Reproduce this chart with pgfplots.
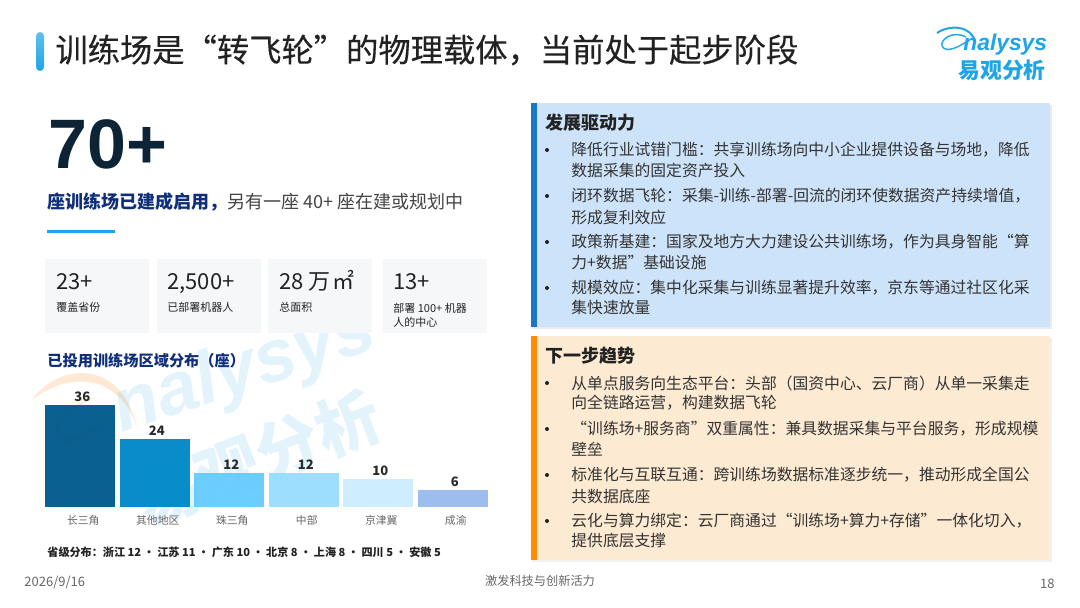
\documentclass[border=0pt]{standalone}
\usepackage{pgfplots}
\pgfplotsset{compat=1.18}
\usepackage{fontspec}
\setmainfont{Noto Sans CJK SC}
\newfontfamily\arialf{Liberation Sans}
\newfontfamily\titlef[FakeBold=0.25]{Noto Sans CJK SC}
\definecolor{navy}{HTML}{0F2F7A}
\definecolor{ink}{HTML}{222222}
\definecolor{body}{HTML}{333333}
\definecolor{cyanb}{HTML}{1FA5E6}
\definecolor{panelb}{HTML}{CDE3FA}
\definecolor{panelo}{HTML}{FDEAD2}
\definecolor{cardg}{HTML}{F5F7F9}
\definecolor{barblue}{HTML}{1976C8}
\definecolor{c1}{HTML}{005A8C}
\definecolor{c2}{HTML}{0088C8}
\definecolor{c3}{HTML}{66CCFF}
\definecolor{c4}{HTML}{99DDFF}
\definecolor{c5}{HTML}{CCEEFF}
\definecolor{c6}{HTML}{99BBEE}
\newcommand{\fs}[1]{\fontsize{#1pt}{#1pt}\selectfont}
\begin{document}
\begin{tikzpicture}[x=0.5pt,y=-0.5pt]
\fill[white] (0,0) rectangle (1080,608);
% title
\shade[top color=cyanb!70!white,bottom color=cyanb,rounded corners=2pt] (36,32) rectangle (44,71);
\node[anchor=west,inner sep=0,text=ink] at (55,50) {\titlef\fs{16.15}训练场是“转飞轮”的物理载体，当前处于起步阶段};
% logo
\node[anchor=west,inner sep=0,text=cyanb] at (963,45) {\arialf\itshape\bfseries\fs{11.4}nalysys};
\draw[cyanb,line width=1pt] (937,33) .. controls (950,24) and (972,26) .. (975,42);
\draw[cyanb,line width=0.7pt] (966,37) .. controls (952,30) and (940,40) .. (942,46) .. controls (946,54) and (960,46) .. (966,42);
\node[anchor=west,inner sep=0,text=cyanb] at (958,70) {\bfseries\fs{10.9}易观分析};
% big
\node[anchor=west,inner sep=0] at (48,144) {\arialf\bfseries\fs{35}\textcolor[HTML]{0D2436}{70+}};
\node[anchor=west,inner sep=0] at (47,202) {\fs{9}\textcolor{navy}{\bfseries 座训练场已建成启用，}\textcolor[HTML]{444444}{另有一座 40+ 座在建或规划中}};
\fill[cyanb] (47,230) rectangle (115,233);
% watermark
\begin{scope}[opacity=0.13,text opacity=0.13]
\node[rotate=18,inner sep=0,text=cyanb] at (245,372) {\arialf\bfseries\itshape\fs{37}nalysys};
\node[rotate=21,inner sep=0,text=cyanb] at (258,458) {\bfseries\fs{32}易观分析};
\end{scope}
\fill[orange,opacity=0.17] (32,400) .. controls (55,365) and (120,355) .. (137,427) .. controls (120,375) and (70,370) .. (32,400);
\fill[orange,opacity=0.17] (97,397) .. controls (60,405) and (45,435) .. (63,443) .. controls (80,447) and (100,430) .. (110,413) .. controls (95,430) and (65,445) .. (60,430) .. controls (58,420) and (75,405) .. (97,397);
% cards
\foreach \a/\b/\tx/\n/\s in {45/149/56/23+/覆盖省份,157/261/167/{2,500+}/已部署机器人,268/372/279/{28 万\hspace{1pt}㎡}/总面积}{
  \fill[cardg] (\a,259) rectangle (\b,333);
  \node[anchor=base west,inner sep=0,text=ink] at (\tx,290) {\fs{11}\n};
  \node[anchor=west,inner sep=0,text=ink] at (\tx,307) {\fs{5.5}\s};
}
\fill[cardg] (383,259) rectangle (487,333);
\node[anchor=base west,inner sep=0,text=ink] at (393,290) {\fs{11}13+};
\node[anchor=west,inner sep=0,text=ink] at (393,308) {\fs{5.5}部署 100+ 机器};
\node[anchor=west,inner sep=0,text=ink] at (393,322) {\fs{5.5}人的中心};
\node[anchor=west,inner sep=0,text=navy] at (47,361) {\bfseries\fs{7.6}已投用训练场区域分布（座）};
% chart
\begin{axis}[at={(21.5pt,-253.5pt)},anchor=south west,scale only axis,width=223.5pt,height=56.6pt,
  xmin=-0.5,xmax=5.5,ymin=0,ymax=40,clip=false,
  axis line style={draw=none},tick style={draw=none},
  ytick=\empty,xtick={0,1,2,3,4,5},
  xticklabels={长三角,其他地区,珠三角,中部,京津冀,成渝},
  xticklabel style={font=\fontsize{5.4}{5.4}\selectfont,text=black!60,xshift=1.5pt,yshift=3.5pt},
  ybar,bar width=35pt,bar shift=0pt,
  /pgf/number format/assume math mode=true,
  nodes near coords,
  every node near coord/.append style={font=\fontsize{6.5}{6.5}\selectfont\bfseries,text=ink,inner sep=1.5pt,xshift=1pt},
  ]
\addplot[draw=none,fill=c1,fill opacity=0.96] coordinates {(0,36)};
\addplot[draw=none,fill=c2,fill opacity=0.96] coordinates {(1,24)};
\addplot[draw=none,fill=c3,fill opacity=0.96] coordinates {(2,12)};
\addplot[draw=none,fill=c4,fill opacity=0.96] coordinates {(3,12)};
\addplot[draw=none,fill=c5,fill opacity=0.96] coordinates {(4,10)};
\addplot[draw=none,fill=c6,fill opacity=0.96] coordinates {(5,6)};
\end{axis}
% footers
\node[anchor=west,inner sep=0,text=black!60] at (24,583) {\fs{6.5}2026/9/16};
\node[anchor=center,inner sep=0,text=black!60] at (540,581) {\fs{6.1}激发科技与创新活力};
\node[anchor=east,inner sep=0,text=black!60] at (1055,584) {\fs{6.5}18};
\node[anchor=west,inner sep=0,text=ink] at (47,552) {\bfseries\fs{5.55}省级分布：浙江 12 · 江苏 11 · 广东 10 · 北京 8 · 上海 8 · 四川 5 · 安徽 5};
% panels
\fill[black!8] (532,105) rectangle (1052,329);
\fill[panelb] (531,103) rectangle (1050,327);
\fill[barblue] (531,103) rectangle (537,327);
\fill[black!6] (532,338) rectangle (1052,562);
\fill[panelo] (531,336) rectangle (1050,560);
\fill[orange!90!yellow] (531,336) rectangle (537,560);
\node[anchor=west,inner sep=0,text=ink] at (545,123) {\bfseries\fs{9}发展驱动力};
\node[anchor=west,inner sep=0,text=ink] at (545,356) {\bfseries\fs{9}下一步趋势};
\foreach \y/\t in {150/降低行业试错门槛：共享训练场向中小企业提供设备与场地，降低,
 171/数据采集的固定资产投入,
 196/闭环数据飞轮：采集-训练-部署-回流的闭环使数据资产持续增值，,
 217/形成复利效应,
 242/政策新基建：国家及地方大力建设公共训练场，作为具身智能“算,
 263/力+数据”基础设施,
 288/规模效应：集中化采集与训练显著提升效率，京东等通过社区化采,
 308/集快速放量,
 383/从单点服务向生态平台：头部（国资中心、云厂商）从单一采集走,
 403/向全链路运营，构建数据飞轮,
 429/{“训练场+服务商”双重属性：兼具数据采集与平台服务，形成规模},
 449/壁垒,
 475/标准化与互联互通：跨训练场数据标准逐步统一，推动形成全国公,
 496/共数据底座,
 521/云化与算力绑定：云厂商通过“训练场+算力+存储”一体化切入，,
 541/提供底层支撑}{
 \node[anchor=west,inner sep=0,text=body] at (571,\y) {\fs{7.9}\t};
}
\foreach \y in {150,196,242,288,383,429,475,521}{
 \fill[ink] (547,\y) circle[radius=2];
}
\end{tikzpicture}
\end{document}
